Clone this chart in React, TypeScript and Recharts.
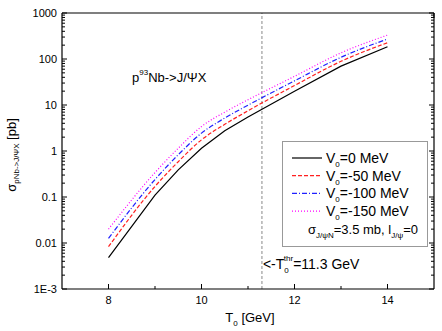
import { LineChart, Line, XAxis, YAxis, ReferenceLine, Legend } from 'recharts';

const energies = [8, 9, 9.5, 10, 10.5, 11, 12, 13, 14];
const sigmaV0 = [0.0048, 0.11, 0.39, 1.15, 2.75, 5.5, 20, 70, 185];
const sigmaV50 = [0.0083, 0.17, 0.585, 1.75, 3.8, 7.5, 26.5, 89, 226];
const sigmaV100 = [0.0126, 0.24, 0.83, 2.45, 5.2, 9.9, 33.5, 109, 272];
const sigmaV150 = [0.02, 0.34, 1.15, 3.4, 7.0, 13, 42, 136, 331];

const xTicks = [8, 9, 10, 11, 12, 13, 14];
const xMajor = [8, 10, 12, 14];
const yMajor = [0.001, 0.01, 0.1, 1, 10, 100, 1000];
const yTicks: number[] = [];
yMajor.slice(0, -1).forEach((d) => {
  for (let k = 1; k < 10; k++) yTicks.push(+(d * k).toPrecision(3));
});
yTicks.push(1000);

const series = [
  { key: 'v0', label: '=0 MeV', color: '#000000', dash: undefined as string | undefined },
  { key: 'v50', label: '=-50 MeV', color: '#ff2020', dash: '4 2' },
  { key: 'v100', label: '=-100 MeV', color: '#2020ff', dash: '5 2 1 2' },
  { key: 'v150', label: '=-150 MeV', color: '#ff00ff', dash: '1 2' },
];

const rows = energies.map((e, i) => ({
  e,
  v0: sigmaV0[i],
  v50: sigmaV50[i],
  v100: sigmaV100[i],
  v150: sigmaV150[i],
}));

const FONT = '"Liberation Sans", Arial, sans-serif';

const isMajorY = (v: number) => Math.abs(Math.log10(v) - Math.round(Math.log10(v))) < 1e-6;
const fmtY = (v: number) => (v === 0.001 ? '1E-3' : String(v));

const LeftTick = (p: any) => {
  const major = isMajorY(p.payload.value);
  return (
    <g>
      <line x1={p.x} x2={p.x + (major ? 5 : 3)} y1={p.y} y2={p.y} stroke="#000" />
      {major && (
        <text x={p.x - 5} y={p.y} dy={4} textAnchor="end" fontSize={11} fill="#000">
          {fmtY(p.payload.value)}
        </text>
      )}
    </g>
  );
};

const RightTick = (p: any) => {
  const major = isMajorY(p.payload.value);
  return <line x1={p.x} x2={p.x - (major ? 5 : 3)} y1={p.y} y2={p.y} stroke="#000" />;
};

const BottomTick = (p: any) => {
  const major = xMajor.includes(p.payload.value);
  return (
    <g>
      <line x1={p.x} x2={p.x} y1={p.y} y2={p.y - (major ? 5 : 3)} stroke="#000" />
      {major && (
        <text x={p.x} y={p.y + 15} textAnchor="middle" fontSize={11} fill="#000">
          {p.payload.value}
        </text>
      )}
    </g>
  );
};

const TopTick = (p: any) => {
  const major = xMajor.includes(p.payload.value);
  return <line x1={p.x} x2={p.x} y1={p.y} y2={p.y + (major ? 5 : 3)} stroke="#000" />;
};

const ThresholdLabel = (p: any) => {
  const vb = p.viewBox;
  const y = vb.y + vb.height - 20;
  return (
    <text x={vb.x + 1} y={y} fontSize={14} fill="#000">
      {'<-T'}
      <tspan fontSize={8} dy={4}>0</tspan>
      <tspan fontSize={8} dx={-5} dy={-12}>thr</tspan>
      <tspan dy={8}>=11.3 GeV</tspan>
    </text>
  );
};

const LegendBox = () => (
  <svg width={146} height={106} style={{ display: 'block', fontFamily: FONT }}>
    <rect x={0.5} y={0.5} width={145} height={105} fill="#fff" stroke="#999" />
    {series.map((s, i) => {
      const cy = 17 + i * 17.7;
      return (
        <g key={s.key}>
          <line x1={10} x2={40} y1={cy} y2={cy} stroke={s.color} strokeWidth={1.2} strokeDasharray={s.dash} />
          <text x={44} y={cy + 5} fontSize={14} fill="#000">
            V<tspan fontSize={8} dy={4}>0</tspan>
            <tspan dy={-4}>{s.label}</tspan>
          </text>
        </g>
      );
    })}
    <text x={26} y={93} fontSize={13} fill="#000">
      σ<tspan fontSize={8} dy={4}>J/ψN</tspan>
      <tspan dy={-4}>=3.5 mb, l</tspan>
      <tspan fontSize={8} dy={4}>J/ψ</tspan>
      <tspan dy={-4}>=0</tspan>
    </text>
  </svg>
);

const axisLine = { stroke: '#000', strokeWidth: 1.2 };

export default function App() {
  return (
    <div style={{ position: 'absolute', left: 0, top: 0, width: 442, height: 331, background: '#fff' }}>
      <LineChart
        width={442}
        height={331}
        data={rows}
        margin={{ top: 12, right: 7, bottom: 41, left: 61 }}
        style={{ fontFamily: FONT }}
      >
        <XAxis
          xAxisId="bottom"
          dataKey="e"
          type="number"
          domain={[7, 15]}
          allowDataOverflow
          ticks={xTicks}
          interval={0}
          height={1}
          tickSize={0}
          tickMargin={0}
          tickLine={false}
          axisLine={axisLine}
          tick={BottomTick}
        />
        <XAxis
          xAxisId="top"
          orientation="top"
          type="number"
          domain={[7, 15]}
          allowDataOverflow
          ticks={xTicks}
          interval={0}
          height={1}
          tickSize={0}
          tickMargin={0}
          tickLine={false}
          axisLine={axisLine}
          tick={TopTick}
        />
        <YAxis
          yAxisId="left"
          scale="log"
          type="number"
          domain={[0.001, 1000]}
          allowDataOverflow
          ticks={yTicks}
          interval={0}
          width={1}
          tickSize={0}
          tickMargin={0}
          tickLine={false}
          axisLine={axisLine}
          tick={LeftTick}
        />
        <YAxis
          yAxisId="right"
          orientation="right"
          scale="log"
          type="number"
          domain={[0.001, 1000]}
          allowDataOverflow
          ticks={yTicks}
          interval={0}
          width={1}
          tickSize={0}
          tickMargin={0}
          tickLine={false}
          axisLine={axisLine}
          tick={RightTick}
        />
        <ReferenceLine
          xAxisId="bottom"
          yAxisId="left"
          x={11.3}
          stroke="#888"
          strokeDasharray="3 2"
          label={ThresholdLabel}
        />
        {series.map((s) => (
          <Line
            key={s.key}
            xAxisId="bottom"
            yAxisId="left"
            dataKey={s.key}
            type={s.key === 'v0' ? 'linear' : 'monotone'}
            stroke={s.color}
            strokeWidth={1.2}
            strokeDasharray={s.dash}
            dot={false}
            isAnimationActive={false}
          />
        ))}
        <Legend
          layout="vertical"
          align="center"
          verticalAlign="middle"
          content={LegendBox}
          wrapperStyle={{ left: 282, top: 141, width: 146, height: 106 }}
        />
        <text x={132} y={82} fontSize={13} fill="#000">
          p<tspan fontSize={8} dy={-7}>93</tspan>
          <tspan dy={7}>Nb-&gt;J/ΨX</tspan>
        </text>
        <text x={250} y={322} fontSize={13} fill="#000" textAnchor="middle">
          T<tspan fontSize={8} dy={4}>0</tspan>
          <tspan dy={-4}> [GeV]</tspan>
        </text>
        <text x={16} y={155} transform="rotate(-90 16 155)" fontSize={13} fill="#000" textAnchor="middle">
          σ<tspan fontSize={8} dy={3}>pNb-&gt;J/ΨX</tspan>
          <tspan dy={-3}> [pb]</tspan>
        </text>
      </LineChart>
    </div>
  );
}
